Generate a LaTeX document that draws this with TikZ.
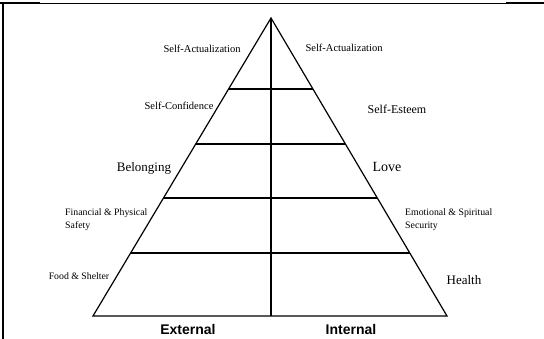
\documentclass[tikz,border=0pt]{standalone}
\usepackage{fontspec}
\setmainfont{Liberation Serif}
\setsansfont{Liberation Sans}
\usepackage{tikz}
\usetikzlibrary{calc}

\begin{document}
\begin{tikzpicture}[x=1pt,y=-1pt,
    edge/.style={line width=1.2pt},
    lbl/.style={inner sep=0pt,font=\fontsize{10.5}{12}\selectfont},
    midlbl/.style={inner sep=0pt,font=\fontsize{12}{14}\selectfont},
    biglbl/.style={inner sep=0pt,font=\fontsize{13}{15}\selectfont},
    smalllbl/.style={inner sep=0pt,align=left,font=\fontsize{9.8}{13}\selectfont},
    sidelbl/.style={inner sep=0pt,font=\sffamily\bfseries\fontsize{14}{16}\selectfont}]
    \useasboundingbox (0,0) rectangle (544,339);
    % frame
    \draw[line width=0.9pt] (0,3.5) -- (544,3.5);
    \draw[line width=2pt] (0,3.5) -- (40,3.5);
    \draw[line width=2pt] (506,3.5) -- (544,3.5);
    \draw[line width=2pt] (3,2.5) -- (3,339);
    % pyramid
    \coordinate (top) at (271,18);
    \coordinate (bl) at (93,316);
    \coordinate (br) at (447,316);
    \coordinate (bm) at (271,316);
    \draw[edge] (bl) -- (top) -- (br) -- cycle;
    \draw[edge] (top) -- (bm);
    \foreach \y [count=\i] in {89,144,198,253} {
        \coordinate (l\i) at ($(top)!{(\y-18)/298}!(bl)$);
        \coordinate (r\i) at ($(top)!{(\y-18)/298}!(br)$);
        \draw[edge] (l\i) -- (r\i);
    }
    % labels
    \node[lbl] (ext5) at (202,49) {Self-Actualization};
    \node[lbl] (int5) at (344,48) {Self-Actualization};
    \node[lbl] (ext4) at (179,106) {Self-Confidence};
    \node[midlbl] (int4) at (397,109) {Self-Esteem};
    \node[biglbl] (ext3) at (144,168) {Belonging};
    \node[biglbl,font=\fontsize{14}{16}\selectfont] (int3) at (387,167) {Love};
    \node[smalllbl,anchor=west] (ext2) at (65,219.5) {Financial \& Physical\\Safety};
    \node[smalllbl,anchor=west] (int2) at (405,219.5) {Emotional \& Spiritual\\Security};
    \node[smalllbl] (ext1) at (79,276) {Food \& Shelter};
    \node[biglbl] (int1) at (464,280) {Health};
    \node[sidelbl] (ext) at (188,329) {External};
    \node[sidelbl] (int) at (351,329) {Internal};
\end{tikzpicture}
\end{document}
